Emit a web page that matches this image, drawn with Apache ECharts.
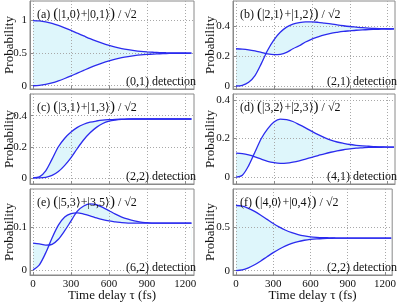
<!DOCTYPE html>
<html><head><meta charset="utf-8">
<script src="https://cdn.jsdelivr.net/npm/echarts@6/dist/echarts.min.js"></script>
<style>html,body{margin:0;padding:0;background:#fff}#c{width:399px;height:304px}</style>
</head><body><div id="c"></div>
<script>
const times = [0,50,100,150,200,250,300,350,400,450,500,550,600,650,700,750,800,850,900,950,1000,1050,1100,1150,1200,1250];
const xTicks = [0,300,600,900,1200];

const aUpper = [1.000,0.995,0.980,0.957,0.926,0.889,0.849,0.806,0.764,0.722,0.684,0.649,0.619,0.592,0.570,0.553,0.539,0.528,0.520,0.514,0.509,0.506,0.504,0.503,0.502,0.501];
const aLower = [0.000,0.005,0.020,0.043,0.074,0.111,0.151,0.194,0.236,0.278,0.316,0.351,0.381,0.408,0.430,0.447,0.461,0.472,0.480,0.486,0.491,0.494,0.496,0.497,0.498,0.499];
const bRise = [0,0.005,0.025,0.07,0.15,0.24,0.31,0.36,0.395,0.415,0.425,0.43,0.43,0.427,0.422,0.417,0.41,0.404,0.399,0.395,0.391,0.388,0.386,0.385,0.384,0.383];
const bDip = [0.25,0.248,0.243,0.235,0.225,0.215,0.21,0.212,0.225,0.25,0.27,0.295,0.315,0.33,0.343,0.353,0.36,0.366,0.37,0.374,0.377,0.379,0.38,0.381,0.382,0.383];
const cFast = [0,0.006,0.045,0.12,0.2,0.255,0.295,0.325,0.345,0.358,0.366,0.372,0.375,0.377,0.378,0.379,0.379,0.379,0.379,0.379,0.379,0.379,0.379,0.379,0.379,0.379];
const cSlow = [0,0,0.003,0.015,0.04,0.08,0.13,0.19,0.245,0.29,0.325,0.35,0.365,0.372,0.376,0.378,0.379,0.379,0.379,0.379,0.379,0.379,0.379,0.379,0.379,0.379];
const dRise = [0,0.01,0.06,0.13,0.2,0.25,0.285,0.3,0.298,0.288,0.272,0.255,0.237,0.22,0.205,0.192,0.182,0.175,0.169,0.165,0.162,0.16,0.158,0.157,0.156,0.156];
const dDip = [0.125,0.122,0.115,0.105,0.093,0.082,0.075,0.072,0.073,0.078,0.085,0.094,0.103,0.112,0.121,0.129,0.136,0.142,0.146,0.15,0.152,0.154,0.155,0.155,0.156,0.156];
const eA = [0,0.012,0.04,0.075,0.105,0.124,0.132,0.134,0.131,0.127,0.122,0.118,0.115,0.113,0.111,0.11,0.11,0.11,0.11,0.11,0.11,0.11,0.11,0.11,0.11,0.11];
const eB = [0.063,0.061,0.058,0.06,0.072,0.092,0.115,0.138,0.15,0.155,0.153,0.147,0.139,0.131,0.124,0.119,0.115,0.112,0.111,0.11,0.11,0.11,0.11,0.11,0.11,0.11];
const fUpper = [0.75,0.742,0.718,0.682,0.638,0.590,0.543,0.501,0.465,0.437,0.415,0.400,0.390,0.384,0.380,0.378,0.376,0.375,0.375,0.375,0.375,0.375,0.375,0.375,0.375,0.375];
const fLower = [0,0.008,0.032,0.068,0.112,0.160,0.207,0.249,0.285,0.313,0.335,0.350,0.360,0.366,0.370,0.372,0.374,0.375,0.375,0.375,0.375,0.375,0.375,0.375,0.375,0.375];

const yTicksA = [0,0.5,1];
const yTicksB = [0,0.2,0.4];
const yTicksC = [0,0.2,0.4];
const yTicksD = [0,0.2,0.4];
const yTicksE = [0,0.1];
const yTicksF = [0,0.5];

const panelLetters = ['(a)','(b)','(c)','(d)','(e)','(f)'];
const kets = [['1,0','0,1'],['2,1','1,2'],['3,1','1,3'],['3,2','2,3'],['5,3','3,5'],['4,0','0,4']];
const detections = ['(0,1) detection','(2,1) detection','(2,2) detection','(4,1) detection','(6,2) detection','(2,2) detection'];

const curves = [[aUpper,aLower],[bRise,bDip],[cFast,cSlow],[dRise,dDip],[eA,eB],[fUpper,fLower]];
const yTicks = [yTicksA,yTicksB,yTicksC,yTicksD,yTicksE,yTicksF];
const yRanges = [[-0.05,1.3],[-0.02,0.57],[-0.04,0.54],[-0.035,0.43],[-0.012,0.19],[-0.05,0.94]];

const grids = [
  {left:30, top:1, width:164, height:88},
  {left:233, top:1, width:162, height:88},
  {left:30, top:94, width:164, height:90},
  {left:233, top:94, width:162, height:90},
  {left:30, top:189, width:164, height:86},
  {left:233, top:189, width:162, height:86}
];
const xRanges = [[-24,1270],[-24,1258],[-24,1270],[-24,1258],[-24,1270],[-24,1258]];

const FONT = 'Liberation Serif';
const LINE = '#2b2bee';
const FILL = '#def6fb';
const FRAME = '#8a8a8a';

const option = {animation:false, backgroundColor:'#fff', grid:[], xAxis:[], yAxis:[], series:[], title:[]};

grids.forEach((g,i)=>{
  option.grid.push(Object.assign({show:true, borderColor:FRAME, borderWidth:1, containLabel:false}, g));
  const bottom = i>=4;
  option.xAxis.push({
    gridIndex:i, type:'value', min:xRanges[i][0], max:xRanges[i][1],
    axisLine:{show:true,onZero:false,lineStyle:{color:FRAME}},
    axisTick:{show:true,inside:true,length:3,customValues:xTicks,lineStyle:{color:FRAME}},
    axisLabel:{show:bottom,customValues:xTicks,formatter:v=>String(v),fontFamily:FONT,fontSize:11,color:'#111',margin:4},
    splitLine:{show:true,lineStyle:{color:'#a8a8a8',type:[1,2],width:1}},
    name: bottom ? 'Time delay τ (fs)' : '',
    nameLocation:'middle', nameGap:14, nameMoveOverlap:false,
    nameTextStyle:{fontFamily:FONT,fontSize:13,color:'#111'}
  });
  option.yAxis.push({
    gridIndex:i, type:'value', min:yRanges[i][0], max:yRanges[i][1],
    axisLine:{show:true,onZero:false,lineStyle:{color:FRAME}},
    axisTick:{show:true,inside:true,length:3,customValues:yTicks[i],lineStyle:{color:FRAME}},
    axisLabel:{show:true,customValues:yTicks[i],formatter:v=>String(v),fontFamily:FONT,fontSize:11,color:'#111',margin:3},
    splitLine:{show:true,lineStyle:{color:'#a8a8a8',type:[1,2],width:1}},
    name:'Probability', nameLocation:'middle', nameGap: (i%2===0)?13.5:15.5, nameMoveOverlap:false,
    nameTextStyle:{fontFamily:FONT,fontSize:13,color:'#111'}
  });
  const [c1,c2] = curves[i];
  const hi = times.map((t,k)=>[t, Math.max(c1[k],c2[k])]);
  const lo = times.map((t,k)=>[t, Math.min(c1[k],c2[k])]);
  option.series.push({type:'line', xAxisIndex:i, yAxisIndex:i, data:hi, symbol:'none', smooth:0.3, lineStyle:{opacity:0}, areaStyle:{color:FILL, opacity:1, origin:'start'}, silent:true, z:-2});
  option.series.push({type:'line', xAxisIndex:i, yAxisIndex:i, data:lo, symbol:'none', smooth:0.3, lineStyle:{opacity:0}, areaStyle:{color:'#ffffff', opacity:1, origin:'start'}, silent:true, z:-1});
  [c1,c2].forEach(c=>{
    option.series.push({type:'line', xAxisIndex:i, yAxisIndex:i, data:times.map((t,k)=>[t,c[k]]), symbol:'none', smooth:0.3, lineStyle:{color:LINE,width:1.3}, z:3});
  });
  const k = kets[i];
  option.title.push({
    text:'{n|'+panelLetters[i]+'} {p|(}|'+k[0]+'⟩+|'+k[1]+'⟩{p|)} / √2',
    left:g.left+2, top:g.top+1,
    textStyle:{fontFamily:FONT,fontSize:12,fontWeight:'normal',color:'#111',
      rich:{n:{fontFamily:FONT,fontSize:12,color:'#111'},p:{fontFamily:FONT,fontSize:15,color:'#111'}}}
  });
  option.title.push({
    text:detections[i],
    left:g.left+g.width-3, top:g.top+g.height-18, textAlign:'right',
    textStyle:{fontFamily:FONT,fontSize:12,fontWeight:'normal',color:'#111'}
  });
});

const chart = echarts.init(document.getElementById('c'), null, {renderer:'canvas'});
chart.setOption(option);
</script>
</body></html>
